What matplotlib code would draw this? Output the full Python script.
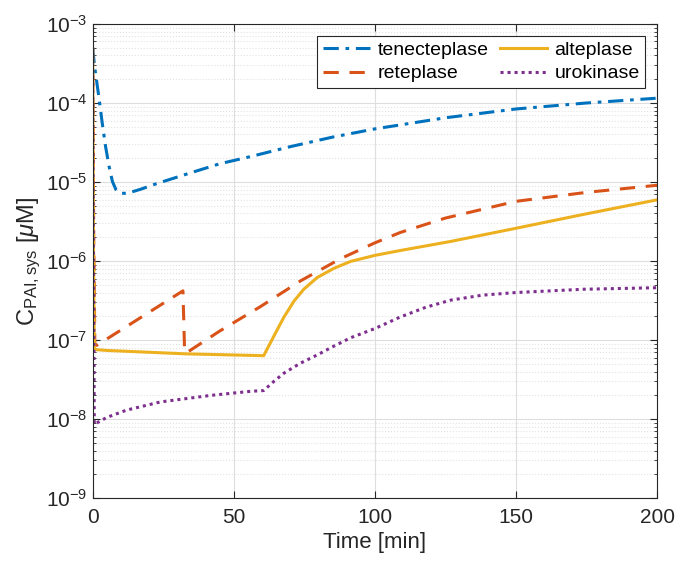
import numpy as np
import matplotlib
matplotlib.use('Agg')
from matplotlib import pyplot as plt
from matplotlib.ticker import LogLocator, NullFormatter

# time in minutes, concentration in uM
t_tnk = [0, 0.7, 2.2, 3.4, 4.6, 5.8, 7.0, 8.2, 9.9, 12.3, 17, 22.9, 34.8, 45, 56, 70, 85, 100, 125, 150, 175, 200]
c_tnk = [5e-4, 2.9e-4, 1.2e-4, 5.6e-5, 2.8e-5, 1.6e-5, 1.02e-5, 8.1e-6, 7.2e-6, 7.2e-6, 8.1e-6, 9.6e-6,
         1.31e-5, 1.7e-5, 2.1e-5, 2.8e-5, 3.7e-5, 4.7e-5, 6.5e-5, 8.4e-5, 1.0e-4, 1.15e-4]

t_ret = [0, 0.4, 0.8, 1.5, 32, 32.6, 33.5, 45, 59.5, 73.6, 87.8, 100, 109, 125, 150, 175, 200]
c_ret = [5e-4, 2e-6, 8.6e-8, 8.6e-8, 4.2e-7, 7e-8, 7e-8, 1.3e-7, 2.66e-7, 5.6e-7, 1.07e-6, 1.7e-6,
         2.3e-6, 3.5e-6, 5.7e-6, 7.4e-6, 9.1e-6]

t_alt = [0, 0.3, 0.6, 5, 33, 60.6, 64.2, 67.7, 71.3, 74.8, 79.6, 85.5, 91.4, 100, 109, 126.8, 150, 174, 200]
c_alt = [5e-4, 2e-6, 7.6e-8, 7.4e-8, 6.7e-8, 6.35e-8, 1.12e-7, 1.93e-7, 3.1e-7, 4.4e-7, 6.2e-7, 8.1e-7,
         9.9e-7, 1.18e-6, 1.36e-6, 1.77e-6, 2.6e-6, 3.9e-6, 5.95e-6]

t_uro = [0, 0.3, 0.6, 5, 12, 24, 42, 56, 60.6, 64.2, 67.7, 73.6, 79.6, 85.5, 91.4, 100, 109, 118, 126.8,
         138, 150, 174, 200]
c_uro = [5e-4, 1e-6, 8.6e-9, 1.05e-8, 1.3e-8, 1.65e-8, 2.0e-8, 2.25e-8, 2.3e-8, 3.0e-8, 3.8e-8, 5.1e-8,
         6.5e-8, 8.4e-8, 1.07e-7, 1.4e-7, 1.96e-7, 2.6e-7, 3.2e-7, 3.7e-7, 4.0e-7, 4.4e-7, 4.6e-7]

plt.rcParams['font.family'] = ['Liberation Sans', 'DejaVu Sans']
plt.rcParams['mathtext.fontset'] = 'custom'
plt.rcParams['mathtext.rm'] = 'Liberation Sans'
plt.rcParams['mathtext.it'] = 'Liberation Sans:italic'

fig = plt.figure(figsize=(6.81, 5.70), dpi=100)
ax = fig.add_axes([0.136, 0.126, 0.829, 0.832])

lw = 2.2
ax.plot(t_tnk, c_tnk, color='#0072BD', lw=lw, dashes=(5, 2.2, 1.2, 2.2), label='tenecteplase')
ax.plot(t_ret, c_ret, color='#D95319', lw=lw, dashes=(5, 3.5), label='reteplase')
ax.plot(t_alt, c_alt, color='#EDB120', lw=lw, label='alteplase')
ax.plot(t_uro, c_uro, color='#7E2F8E', lw=lw, dashes=(1, 1.3), label='urokinase')

ax.set_yscale('log')
ax.set_xlim(0, 200)
ax.set_ylim(1e-9, 1e-3)
ax.set_xticks([0, 50, 100, 150, 200])
ax.yaxis.set_major_locator(LogLocator(base=10, numticks=10))
ax.yaxis.set_minor_locator(LogLocator(base=10, subs=np.arange(2, 10), numticks=20))
ax.yaxis.set_minor_formatter(NullFormatter())

ax.grid(True, which='major', color='#dedede', lw=0.8)
ax.grid(True, which='minor', axis='y', color='#e3e3e3', lw=0.8, ls=':')
ax.set_axisbelow(True)

for s in ax.spines.values():
    s.set_color('#262626')
    s.set_linewidth(0.8)
ax.tick_params(which='both', direction='in', top=True, right=True, colors='#262626',
               labelsize=15, labelcolor='#262626')
ax.tick_params(which='major', length=5)
ax.tick_params(which='minor', length=2.5)
ax.tick_params(axis='x', pad=7)

ax.set_xlabel('Time [min]', fontsize=16, color='#262626')
ax.set_ylabel(r'C$_{\mathrm{PAI,sys}}$ [$\mu$M]', fontsize=17, color='#262626', labelpad=2)

leg = ax.legend(ncol=2, loc='upper right', fontsize=14, frameon=True, fancybox=False,
                edgecolor='#262626', framealpha=1, handlelength=2.4, columnspacing=0.6,
                handletextpad=0.4, borderaxespad=0.6, labelspacing=0.3, borderpad=0.3)
leg.get_frame().set_linewidth(0.8)

plt.savefig('out.png', dpi=100)
